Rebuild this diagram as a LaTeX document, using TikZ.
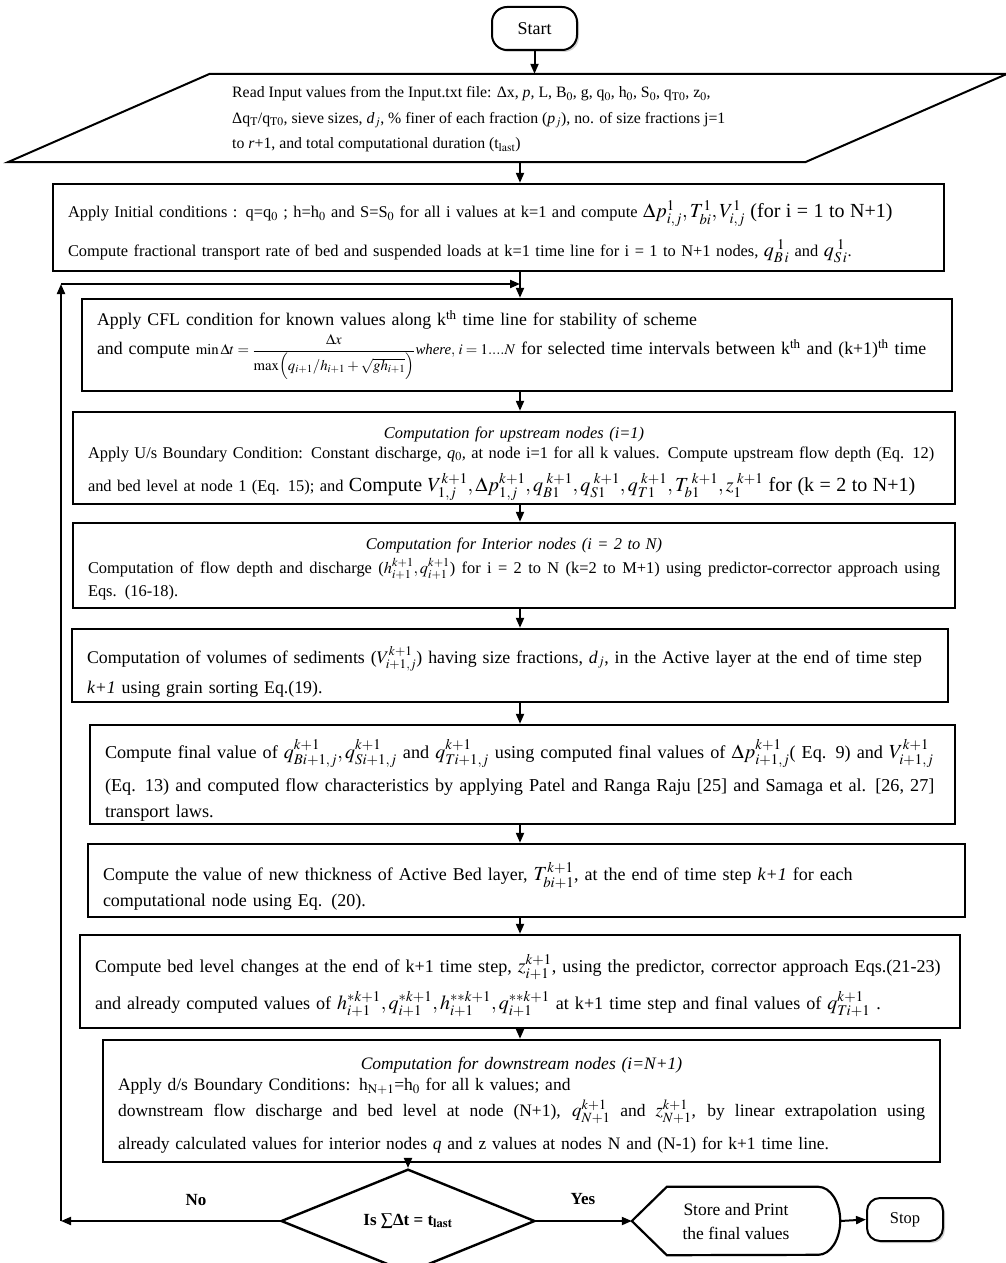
\documentclass[tikz,border=0pt]{standalone}
\usepackage{mathptmx}
\usepackage{fontspec}
\setmainfont{Liberation Serif}
\usepackage{tikz}
\usetikzlibrary{arrows.meta,shapes.geometric,shadows}

\newcommand{\setsz}[2]{\fontsize{#1}{#2}\selectfont}
\newcommand{\eqbig}[1]{{\fontsize{20}{20}\selectfont#1}}
\newcommand{\fullline}[1]{\makebox[\hsize][s]{\spaceskip=0pt\xspaceskip=0pt #1}}
\newcommand{\midline}[1]{\makebox[\hsize][c]{#1}}
\newcommand{\lift}[1]{\rule{0pt}{#1pt}}

\tikzset{
  procbox/.style={draw, line width=2.4pt, inner xsep=15pt, inner ysep=2pt, align=left,
                  execute at begin node={\parindent=0pt}},
  termbox/.style={draw, line width=2pt, rounded corners=15pt, fill=white, inner sep=0pt,
                  drop shadow={shadow xshift=2pt, shadow yshift=-2pt, fill=black!35}},
  flow/.style={-{Triangle[length=10pt,width=8pt]}, line width=2pt},
  decision/.style={diamond, draw, line width=2.4pt, inner sep=0pt,
                   minimum width=254pt, minimum height=82pt},
  answer/.style={font=\bfseries\setsz{17}{17}},
}

\begin{document}
\begin{tikzpicture}[x=1pt,y=-1pt]
\useasboundingbox (0,0) rectangle (1006,1263);
\coordinate (spine) at (520,0);

% start and input
\node[termbox, minimum width=85pt, minimum height=43pt, font=\setsz{18}{20}] (start) at (534.5,28.5) {Start};
\node[inner sep=0pt, minimum width=797pt, minimum height=88pt] (input) at (507.5,118) {};
\draw[line width=2pt] ([xshift=101pt]input.north west) -- ([xshift=101pt]input.north east)
   -- ([xshift=-101pt]input.south east) -- ([xshift=-101pt]input.south west) -- cycle;
\node[anchor=west, align=left, inner sep=0pt, font=\setsz{15.8}{25.5}] (inputtxt) at (232,119.5)
  {Read Input values from the Input.txt file: Δx, \textit{p,} L, B$_0$, g, q$_0$, h$_0$, S$_0$, q$_{\mathrm{T0}}$, z$_0$,\\
   Δq$_{\mathrm{T}}$/q$_{\mathrm{T0}}$, sieve sizes, \textit{d$_j$}, \% finer of each fraction (\textit{p$_j$}),  no. of size fractions j=1\\
   to \textit{r}+1, and  total computational duration  (t$_{\mathrm{last}}$)};

% process boxes
\node[procbox, text width=861pt, minimum height=87pt, font=\setsz{16.4}{39}] (init) at (498.5,227.5)
  {\lift{26}Apply Initial conditions :  q=q$_0$ ;  h=h$_0$ and S=S$_0$ for all i values at k=1 and  compute \eqbig{$\Delta p_{i,j}^{1}, T_{bi}^{1}, V_{i,j}^{1}$ (for i = 1 to N+1)}\\
   Compute fractional transport rate of bed and suspended loads at k=1 time line for i = 1 to N+1 nodes,  \eqbig{$q_{B\,i}^{\;1}$} and  \eqbig{$q_{S\,i}^{\;1}$}.};

\node[procbox, text width=840pt, minimum height=92pt, font=\setsz{17.8}{29}] (cfl) at (517,345)
  {Apply CFL condition for known values along k$^{\mathrm{th}}$ time line for stability of scheme\\
   and compute {\setsz{14.8}{14.8}$\min\Delta t=\displaystyle\frac{\Delta x}{\max\Bigl(q_{i+1}/h_{i+1}+\sqrt{gh_{i+1}}\Bigr)}\textit{where},\, i=1....N$} for selected time intervals between k$^{\mathrm{th}}$ and (k+1)$^{\mathrm{th}}$ time};

\node[procbox, text width=852pt, minimum height=92pt, font=\setsz{16.4}{20}] (upstream) at (514,458)
  {\lift{23}\midline{\textit{Computation for upstream nodes (i=1)}}\\
   Apply U/s Boundary Condition: Constant discharge, \textit{q$_0$,} at node i=1 for all k values. Compute upstream flow depth (Eq. 12)\\[10pt]
   and bed level at node 1 (Eq. 15);  and  \eqbig{Compute $V_{1,j}^{k+1}, \Delta p_{1,j}^{k+1}, q_{B1}^{\;k+1}, q_{S1}^{\;k+1}, q_{T1}^{\;k+1}, T_{b1}^{\;k+1}, z_{1}^{\;k+1}$ for (k = 2 to N+1)}};

\node[procbox, text width=852pt, minimum height=85pt, font=\setsz{16.4}{23.5}] (interior) at (514,565.5)
  {\lift{19}\midline{\textit{Computation for Interior nodes (i = 2 to N)}}\\
   \fullline{Computation of flow depth and discharge ($h_{i+1}^{k+1}, q_{i+1}^{k+1}$) for i = 2 to N (k=2 to M+1) using predictor-corrector approach using}\\
   Eqs. (16-18).};

\node[procbox, text width=846pt, minimum height=73pt, font=\setsz{17.8}{30}] (volume) at (510,665.5)
  {\lift{29}Computation of volumes of sediments ($V_{i+1,j}^{k+1}$) having size fractions, \textit{d$_j$}, in the Active layer at the end of time step\\
   \textit{k+1} using grain sorting Eq.(19).};

\node[procbox, text width=835pt, minimum height=99pt, font=\setsz{18.2}{26}] (final) at (522.5,774.5)
  {\lift{30}Compute final value of \eqbig{$q_{Bi+1,j}^{k+1}, q_{Si+1,j}^{k+1}$} and \eqbig{$q_{Ti+1,j}^{k+1}$} using computed final values of \eqbig{$\Delta p_{i+1,j}^{k+1}$}( Eq. 9) and  \eqbig{$V_{i+1,j}^{k+1}$}\\[7pt]
   (Eq. 13) and computed flow characteristics by applying Patel and Ranga  Raju [25] and Samaga et al. [26, 27]\\
   transport laws.};

\node[procbox, text width=847pt, minimum height=73pt, font=\setsz{18}{26}] (thick) at (526.5,880.5)
  {\lift{30}Compute the value of new thickness of Active Bed layer, \eqbig{$T_{bi+1}^{k+1}$},  at the end of time step \textit{k+1} for each\\
   computational node using Eq. (20).};

\node[procbox, text width=850pt, minimum height=93pt, font=\setsz{18.1}{37}] (bedlevel) at (520,981.5)
  {\lift{26}Compute bed level changes at the end of k+1 time step,  \eqbig{$z_{i+1}^{k+1}$}, using the predictor, corrector approach Eqs.(21-23)\\
   and already computed values of \eqbig{$h_{i+1}^{*k+1}, q_{i+1}^{*k+1}, h_{i+1}^{**k+1}, q_{i+1}^{**k+1}$} at k+1 time step and final values of \eqbig{$q_{Ti+1}^{k+1}$} .};

\node[procbox, text width=807pt, minimum height=122pt, font=\setsz{17.5}{21}] (downstream) at (521.5,1101)
  {\lift{21}\midline{\textit{Computation for downstream nodes (i=N+1)}}\\
   Apply d/s Boundary Conditions:  h$_{\mathrm{N+1}}$=h$_0$   for all k values; and\\[4pt]
   \fullline{downstream flow discharge and bed level at node (N+1),  {\setsz{19}{19}$q_{N+1}^{k+1}$} and  {\setsz{19}{19}$z_{N+1}^{k+1}$}, by linear extrapolation using}\\[12pt]
   already calculated values for interior nodes \textit{q} and z values at nodes N and (N-1) for k+1 time line.};

% decision and end
\node[decision, font=\bfseries\setsz{17}{17}] (check) at (408,1221) {Is $\sum$Δt = t$_{\mathbf{last}}$};
\node[inner sep=0pt, minimum width=208pt, minimum height=68pt, align=center, font=\setsz{17.5}{24}] (store) at (736,1221)
  {Store and Print\\the final values};
\draw[line width=2.2pt] (store.west) -- ([xshift=35pt]store.north west) -- ([xshift=-22pt]store.north east)
   arc[start angle=90, end angle=-90, x radius=22pt, y radius=34pt]
   -- ([xshift=35pt]store.south west) -- cycle;
\node[termbox, minimum width=76pt, minimum height=43pt, rounded corners=13pt, font=\setsz{16.5}{18}] (stop) at (905,1219.5) {Stop};
\node[answer] (nolbl) at (196,1200) {No};
\node[answer] (yeslbl) at (583,1199) {Yes};

% connectors
\draw[flow] (start) -- (start |- input.north);
\draw[flow] (input.south -| spine) -- (init.north -| spine);
\draw[flow] (init.south -| spine) -- (cfl.north -| spine);
\draw[flow] (cfl.south -| spine) -- (upstream.north -| spine);
\draw[flow] (upstream.south -| spine) -- (interior.north -| spine);
\draw[flow] (interior.south -| spine) -- (volume.north -| spine);
\draw[flow] (volume.south -| spine) -- (final.north -| spine);
\draw[flow] (final.south -| spine) -- (thick.north -| spine);
\draw[flow] (thick.south -| spine) -- (bedlevel.north -| spine);
\draw[flow] (bedlevel.south -| spine) -- (downstream.north -| spine);
\draw[flow] (downstream.south -| check) -- (check.north);
\draw[flow] (check.east) -- (store.west);
\draw[flow] (store.east) -- (stop.west);

% loop back
\coordinate (loopb) at (61,1221);
\coordinate (loopt) at (61,284);
\draw[flow] (check.west) -- (loopb);
\draw[flow] (loopb) -- (loopt);
\draw[flow] (loopt) -- (loopt -| spine);
\end{tikzpicture}
\end{document}
